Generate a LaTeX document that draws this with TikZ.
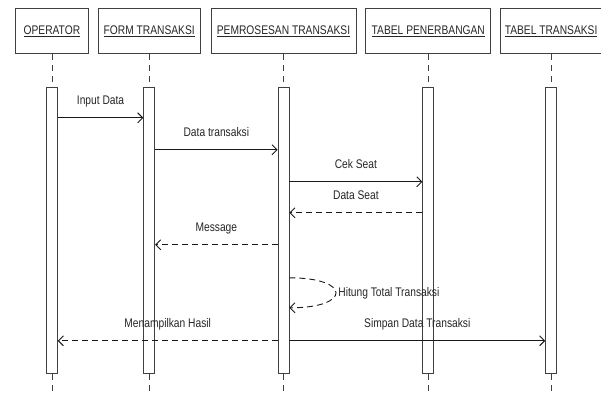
\documentclass[tikz,border=0pt]{standalone}
\usepackage{fontspec}
\setmainfont{Liberation Sans}[FakeStretch=0.82]
\usetikzlibrary{positioning, arrows.meta}

\begin{document}
\begin{tikzpicture}[x=1pt, y=-1pt, node distance=9pt, font=\fontsize{12.5}{14}\selectfont]
    \tikzstyle{actor} = [rectangle,minimum height=45pt,inner sep=0pt,draw=black!75,line width=0.8pt,text=black!85]
    \tikzstyle{bar} = [rectangle,minimum width=11pt,minimum height=286pt,inner sep=0pt,draw=black!75,fill=white,line width=0.8pt]
    \tikzstyle{lifeline} = [draw=black!75,line width=0.8pt,dash pattern=on 6pt off 5pt]
    \tikzstyle{call} = [draw=black!90,line width=0.9pt,-{Straight Barb[length=5pt,width=10pt]}]
    \tikzstyle{reply} = [call,dash pattern=on 6pt off 4pt]
    \tikzstyle{lbl} = [above=8pt,text height=9pt,text depth=2.5pt,inner sep=2pt,text=black!85]

    \useasboundingbox (0,0) rectangle (601,393);
    \coordinate (bottom) at (0,393);

    \node (opr) [actor, minimum width=73pt, anchor=north west] at (15,8) {\underline{OPERATOR}};
    \node (form) [actor, minimum width=102pt, right=of opr] {\underline{FORM TRANSAKSI}};
    \node (proc) [actor, minimum width=145pt, right=10pt of form] {\underline{PEMROSESAN TRANSAKSI}};
    \node (flight) [actor, minimum width=125pt, right=of proc] {\underline{TABEL PENERBANGAN}};
    \node (trans) [actor, minimum width=101pt, right=of flight] {\underline{TABEL TRANSAKSI}};

    \node (oprbar) [bar, below=33pt of opr] {};
    \node (formbar) [bar, below=33pt of form] {};
    \node (procbar) [bar, below=33pt of proc] {};
    \node (flightbar) [bar, below=33pt of flight] {};
    \node (transbar) [bar, below=33pt of trans] {};

    \foreach \n in {opr, form, proc, flight, trans} {
        \draw [lifeline] (\n.south) -- (\n bar.north);
        \draw [lifeline] (\n bar.south) -- (\n bar.south |- bottom);
    }

    \draw [call] ([yshift=-31pt]oprbar.north east) -- node[lbl]{Input Data} ([yshift=-31pt]formbar.north west);
    \draw [call] ([yshift=-63pt]formbar.north east) -- node[lbl]{Data transaksi} ([yshift=-63pt]procbar.north west);
    \draw [call] ([yshift=-95pt]procbar.north east) -- node[lbl]{Cek Seat} ([yshift=-95pt]flightbar.north west);
    \draw [reply] ([yshift=-126pt]flightbar.north west) -- node[lbl]{Data Seat} ([yshift=-126pt]procbar.north east);
    \draw [reply] ([yshift=-158pt]procbar.north west) -- node[lbl]{Message} ([yshift=-158pt]formbar.north east);

    \draw [reply] ([yshift=-191pt]procbar.north east) .. controls +(62,0) and +(62,0) .. node[pos=0.5,right,inner sep=2pt,text=black!85]{Hitung Total Transaksi} ([yshift=-221pt]procbar.north east);

    \draw [reply] ([yshift=-254pt]procbar.north west) -- node[lbl]{Menampilkan Hasil} ([yshift=-254pt]oprbar.north east);
    \draw [call] ([yshift=-254pt]procbar.north east) -- node[lbl]{Simpan Data Transaksi} ([yshift=-254pt]transbar.north west);
\end{tikzpicture}
\end{document}
